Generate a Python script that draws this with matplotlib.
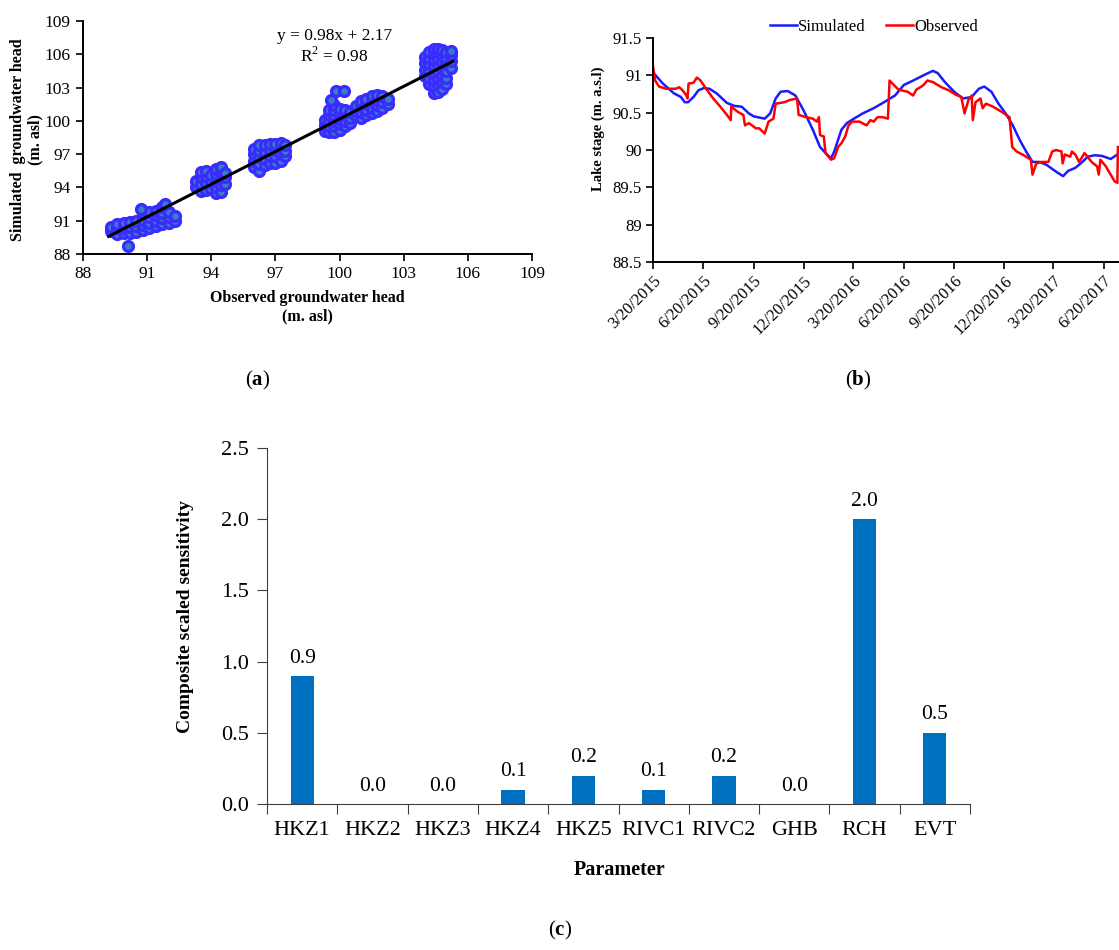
import numpy as np
import pandas as pd
import matplotlib
matplotlib.use("Agg")
import matplotlib.pyplot as plt
import matplotlib.dates as mdates
from matplotlib.ticker import FixedLocator, FuncFormatter, MultipleLocator

plt.rcParams['font.family'] = ['Liberation Serif', 'DejaVu Serif']
plt.rcParams['mathtext.fontset'] = 'custom'
plt.rcParams['mathtext.rm'] = 'Liberation Serif'
plt.rcParams['mathtext.bf'] = 'Liberation Serif:bold'

# ---- (a) observed vs simulated heads, clusters of wells
obs_head = [
    89.3, 89.3, 89.6, 89.6, 89.6, 89.9, 89.9, 89.9, 90.2, 90.2, 90.2, 90.5, 90.5, 90.5,
    90.8, 90.8, 90.8, 90.8, 91.1, 91.1, 91.1, 91.1, 91.4, 91.4, 91.4, 91.4,
    91.7, 91.7, 91.7, 91.7, 92.0, 92.0, 92.0, 92.3, 92.3, 90.1, 91.85, 90.7,
    93.3, 93.3, 93.5, 93.5, 93.5, 93.5, 93.75, 93.75, 93.75, 93.75, 94.0, 94.0, 94.0,
    94.2, 94.2, 94.2, 94.2, 94.2, 94.45, 94.45, 94.45, 94.45, 94.45, 94.65, 94.65, 94.65,
    96.0, 96.0, 96.0, 96.0, 96.25, 96.25, 96.25, 96.25, 96.25, 96.5, 96.5, 96.5, 96.5,
    96.75, 96.75, 96.75, 96.75, 97.0, 97.0, 97.0, 97.0, 97.25, 97.25, 97.25, 97.25,
    97.45, 97.45, 97.45,
    99.3, 99.3, 99.3, 99.5, 99.5, 99.5, 99.5, 99.5, 99.75, 99.75, 99.75, 99.75, 99.75, 99.75,
    100.0, 100.0, 100.0, 100.0, 100.0, 100.25, 100.25, 100.25, 100.25, 100.5, 100.5, 100.5,
    100.75, 100.75, 100.75, 101.0, 101.0, 101.0, 101.0, 101.25, 101.25, 101.25, 101.25,
    101.5, 101.5, 101.5, 101.5, 101.75, 101.75, 101.75, 101.75, 102.0, 102.0, 102.0,
    102.25, 102.25, 99.85, 100.2, 99.6,
    104.0, 104.0, 104.0, 104.0, 104.2, 104.2, 104.2, 104.2, 104.2, 104.2,
    104.4, 104.4, 104.4, 104.4, 104.4, 104.4, 104.4, 104.4,
    104.6, 104.6, 104.6, 104.6, 104.6, 104.6, 104.6, 104.6,
    104.8, 104.8, 104.8, 104.8, 104.8, 104.8, 104.8,
    105.0, 105.0, 105.0, 105.0, 105.0, 105.0, 105.2, 105.2, 105.2, 105.2,
]
sim_head = [
    90.1, 90.45, 89.8, 90.3, 90.7, 89.9, 90.3, 90.8, 89.9, 90.4, 90.9, 90.0, 90.5, 91.0,
    90.2, 90.6, 91.1, 91.7, 90.3, 90.8, 91.3, 91.8, 90.5, 91.0, 91.5, 91.9,
    90.7, 91.2, 91.7, 92.2, 90.8, 91.3, 91.8, 91.0, 91.4, 88.75, 92.5, 92.1,
    94.0, 94.6, 93.7, 94.3, 94.9, 95.4, 93.8, 94.4, 95.0, 95.5, 93.9, 94.5, 95.1,
    93.5, 94.0, 94.6, 95.2, 95.7, 93.6, 94.2, 94.8, 95.4, 95.8, 94.3, 94.9, 95.3,
    95.8, 96.4, 97.0, 97.5, 95.5, 96.1, 96.7, 97.3, 97.8, 96.0, 96.6, 97.2, 97.8,
    96.2, 96.8, 97.4, 97.9, 96.2, 96.8, 97.4, 97.9, 96.4, 97.0, 97.6, 98.0,
    96.8, 97.3, 97.8,
    99.1, 99.6, 100.1, 99.0, 99.5, 100.0, 100.5, 101.0, 99.0, 99.5, 100.0, 100.5, 101.0, 101.4,
    99.2, 99.7, 100.2, 100.7, 101.1, 99.5, 100.0, 100.5, 101.0, 99.8, 100.3, 100.8,
    100.4, 100.9, 101.3, 100.3, 100.8, 101.3, 101.8, 100.5, 101.0, 101.5, 102.0,
    100.7, 101.2, 101.7, 102.2, 100.9, 101.4, 101.9, 102.3, 101.2, 101.7, 102.2,
    101.5, 102.0, 102.65, 102.65, 101.9,
    104.0, 104.6, 105.2, 105.8, 103.3, 103.9, 104.5, 105.1, 105.7, 106.2,
    102.5, 103.1, 103.7, 104.3, 104.9, 105.5, 106.1, 106.5,
    102.6, 103.2, 103.8, 104.4, 105.0, 105.6, 106.2, 106.5,
    102.9, 103.5, 104.1, 104.7, 105.3, 105.9, 106.4,
    103.3, 103.9, 104.5, 105.1, 105.7, 106.2, 104.8, 105.4, 105.9, 106.3,
]
fit_slope, fit_intercept = 0.98, 2.17
fit_range = [89.2, 105.3]
head_ticks = [88, 91, 94, 97, 100, 103, 106, 109]

# ---- (b) lake stage
sim_dates = [
    "2015-03-20", "2015-04-07", "2015-04-27", "2015-05-10", "2015-05-17", "2015-05-23",
    "2015-06-02", "2015-06-11", "2015-06-21", "2015-07-01", "2015-07-14", "2015-08-02",
    "2015-08-16", "2015-08-29", "2015-09-11", "2015-09-20", "2015-10-10", "2015-10-20",
    "2015-10-30", "2015-11-08", "2015-11-21", "2015-12-05", "2015-12-20", "2016-01-06",
    "2016-01-19", "2016-01-29", "2016-02-08", "2016-02-14", "2016-02-27", "2016-03-08",
    "2016-03-21", "2016-04-06", "2016-04-26", "2016-05-15", "2016-06-04", "2016-06-20",
    "2016-07-07", "2016-07-26", "2016-08-12", "2016-08-21", "2016-09-03", "2016-09-20",
    "2016-10-06", "2016-10-22", "2016-11-04", "2016-11-14", "2016-11-27", "2016-12-10",
    "2016-12-23", "2017-01-05", "2017-01-18", "2017-01-31", "2017-02-10", "2017-02-23",
    "2017-03-08", "2017-03-25", "2017-04-07", "2017-04-16", "2017-04-29", "2017-05-09",
    "2017-05-22", "2017-06-04", "2017-06-17", "2017-07-03", "2017-07-13",
]
sim_stage = [
    91.04, 90.89, 90.76, 90.71, 90.64, 90.64, 90.71, 90.80, 90.83, 90.82, 90.76, 90.63,
    90.59, 90.58, 90.49, 90.45, 90.42, 90.49, 90.69, 90.78, 90.79, 90.73, 90.53, 90.27,
    90.04, 89.96, 89.89, 89.98, 90.27, 90.36, 90.42, 90.49, 90.56, 90.64, 90.73, 90.87,
    90.93, 91.00, 91.06, 91.03, 90.91, 90.78, 90.69, 90.71, 90.82, 90.85, 90.78, 90.62,
    90.49, 90.33, 90.13, 89.96, 89.84, 89.84, 89.80, 89.71, 89.65, 89.72, 89.76, 89.82,
    89.91, 89.93, 89.92, 89.88, 89.93,
]
obs_dates = [
    "2015-03-20", "2015-03-24", "2015-03-31", "2015-04-13", "2015-04-30", "2015-05-07",
    "2015-05-13", "2015-05-20", "2015-05-22", "2015-05-24", "2015-06-02", "2015-06-08",
    "2015-06-15", "2015-06-25", "2015-07-08", "2015-07-21", "2015-08-02", "2015-08-09",
    "2015-08-10", "2015-08-22", "2015-09-01", "2015-09-04", "2015-09-11", "2015-09-24",
    "2015-09-30", "2015-10-10", "2015-10-13", "2015-10-17", "2015-10-26", "2015-10-30",
    "2015-11-15", "2015-11-25", "2015-12-08", "2015-12-11", "2015-12-24", "2016-01-06",
    "2016-01-13", "2016-01-17", "2016-01-19", "2016-01-26", "2016-01-29", "2016-02-08",
    "2016-02-14", "2016-02-21", "2016-02-27", "2016-03-05", "2016-03-11", "2016-03-18",
    "2016-03-31", "2016-04-13", "2016-04-20", "2016-04-26", "2016-05-03", "2016-05-12",
    "2016-05-22", "2016-05-25", "2016-06-10", "2016-06-27", "2016-07-07", "2016-07-13",
    "2016-07-20", "2016-07-26", "2016-08-02", "2016-08-12", "2016-08-28", "2016-09-10",
    "2016-09-23", "2016-10-03", "2016-10-09", "2016-10-16", "2016-10-22", "2016-10-24",
    "2016-10-29", "2016-11-07", "2016-11-11", "2016-11-17", "2016-11-30", "2016-12-16",
    "2016-12-30", "2017-01-04", "2017-01-12", "2017-01-25", "2017-02-07", "2017-02-10",
    "2017-02-17", "2017-02-26", "2017-03-11", "2017-03-18", "2017-03-25", "2017-04-04",
    "2017-04-06", "2017-04-10", "2017-04-20", "2017-04-23", "2017-04-30", "2017-05-06",
    "2017-05-12", "2017-05-16", "2017-05-29", "2017-06-08", "2017-06-11", "2017-06-14",
    "2017-06-24", "2017-07-10", "2017-07-15", "2017-07-16",
]
obs_stage = [
    91.12, 90.93, 90.85, 90.82, 90.82, 90.84, 90.80, 90.73, 90.69, 90.89, 90.90, 90.97,
    90.93, 90.82, 90.69, 90.58, 90.47, 90.40, 90.58, 90.51, 90.47, 90.33, 90.36, 90.29,
    90.29, 90.22, 90.29, 90.38, 90.42, 90.62, 90.64, 90.67, 90.69, 90.47, 90.44, 90.42,
    90.38, 90.44, 90.20, 90.18, 89.96, 89.87, 89.89, 90.04, 90.09, 90.18, 90.33, 90.38,
    90.38, 90.33, 90.40, 90.38, 90.44, 90.44, 90.42, 90.93, 90.81, 90.78, 90.73, 90.81,
    90.84, 90.87, 90.93, 90.91, 90.84, 90.80, 90.74, 90.71, 90.49, 90.67, 90.73, 90.40,
    90.64, 90.69, 90.56, 90.62, 90.58, 90.51, 90.44, 90.04, 89.98, 89.93, 89.87, 89.67,
    89.82, 89.84, 89.84, 89.98, 90.00, 89.98, 89.82, 89.94, 89.91, 89.98, 89.93, 89.84,
    89.91, 89.96, 89.84, 89.78, 89.67, 89.87, 89.78, 89.58, 89.56, 90.04,
]
stage_ticks = ["2015-03-20", "2015-06-20", "2015-09-20", "2015-12-20", "2016-03-20",
               "2016-06-20", "2016-09-20", "2016-12-20", "2017-03-20", "2017-06-20"]

# ---- (c) composite scaled sensitivity
params = ["HKZ1", "HKZ2", "HKZ3", "HKZ4", "HKZ5", "RIVC1", "RIVC2", "GHB", "RCH", "EVT"]
css = [0.9, 0.0, 0.0, 0.1, 0.2, 0.1, 0.2, 0.0, 2.0, 0.5]

W, H = 1119, 950
fig = plt.figure(figsize=(W / 100, H / 100), dpi=100)


def rect(l, t, r, b):
    return [l / W, 1 - b / H, (r - l) / W, (b - t) / H]


# (a)
ax1 = fig.add_axes(rect(83, 21, 532, 254))
ax1.scatter(obs_head, sim_head, s=50, facecolor='#3580c0', edgecolor='#3a2cff',
            linewidth=2.4, zorder=2)
fx = np.array(fit_range)
ax1.plot(fx, fit_slope * fx + fit_intercept, color='black', lw=2.2, zorder=3)
ax1.set_xlim(88, 109)
ax1.set_ylim(88, 109)
ax1.xaxis.set_major_locator(FixedLocator(head_ticks))
ax1.yaxis.set_major_locator(FixedLocator(head_ticks))
for s in ['top', 'right']:
    ax1.spines[s].set_visible(False)
for s in ['left', 'bottom']:
    ax1.spines[s].set_linewidth(1.4)
ax1.tick_params(direction='out', length=5, width=1.2, labelsize=12.5, pad=4)
ax1.text(0.56, 0.97, 'y = 0.98x + 2.17\nR$^2$ = 0.98', transform=ax1.transAxes,
         ha='center', va='top', fontsize=12.5, linespacing=1.15)
fig.text(27 / W, 1 - 140 / H, 'Simulated  groundwater head\n(m. asl)', rotation=90,
         ha='center', va='center', fontsize=11.5, fontweight='bold', linespacing=1.1)
fig.text(307 / W, 1 - 307 / H, 'Observed groundwater head\n(m. asl)',
         ha='center', va='center', fontsize=11.5, fontweight='bold', linespacing=1.15)

# (b)
ax2 = fig.add_axes(rect(653, 38, W, 262))
ax2.plot(pd.to_datetime(sim_dates), sim_stage, color='#1a1aff', lw=1.8, label='Simulated')
ax2.plot(pd.to_datetime(obs_dates), obs_stage, color='#ff0000', lw=1.8, label='Observed')
ax2.set_xlim(pd.Timestamp("2015-03-20"), pd.Timestamp("2017-07-18"))
ax2.set_ylim(88.5, 91.5)
ax2.yaxis.set_major_locator(MultipleLocator(0.5))
ax2.yaxis.set_major_formatter(FuncFormatter(lambda v, p: f"{v:g}"))
ax2.xaxis.set_major_locator(FixedLocator(mdates.date2num(pd.to_datetime(stage_ticks))))
ax2.xaxis.set_major_formatter(FuncFormatter(
    lambda v, p: (lambda d: f"{d.month}/{d.day}/{d.year}")(mdates.num2date(v))))
for s in ['top', 'right']:
    ax2.spines[s].set_visible(False)
for s in ['left', 'bottom']:
    ax2.spines[s].set_linewidth(1.4)
ax2.tick_params(direction='out', length=5, width=1.2, labelsize=12, pad=3)
for lab in ax2.get_xticklabels():
    lab.set_rotation(45)
    lab.set_ha('right')
    lab.set_rotation_mode('anchor')
ax2.legend(loc='center', bbox_to_anchor=(874 / W, 1 - 27 / H), bbox_transform=fig.transFigure,
           ncol=2, frameon=False, fontsize=12, handlelength=1.6, handletextpad=0.1,
           columnspacing=1.2, borderpad=0)
fig.text(598 / W, 1 - 129 / H, 'Lake stage (m. a.s.l)', rotation=90, ha='center',
         va='center', fontsize=10.5, fontweight='bold')

# (c)
ax3 = fig.add_axes(rect(267, 448, 970, 804))
xpos = np.arange(len(params))
ax3.bar(xpos, css, width=0.33, color='#0070c0', zorder=2)
for x, v in zip(xpos, css):
    ax3.annotate(f"{v:.1f}", (x, v), xytext=(0, 6), textcoords='offset points',
                 ha='center', va='bottom', fontsize=15.5)
ax3.set_xlim(-0.5, len(params) - 0.5)
ax3.set_ylim(0, 2.5)
ax3.yaxis.set_major_locator(MultipleLocator(0.5))
ax3.yaxis.set_major_formatter(FuncFormatter(lambda v, p: f"{v:.1f}"))
ax3.set_xticks(np.arange(-0.5, len(params), 1.0))
ax3.set_xticklabels([])
ax3.set_xticks(xpos, minor=True)
ax3.set_xticklabels(params, minor=True)
ax3.tick_params(axis='x', which='minor', length=0, labelsize=16, pad=12)
ax3.tick_params(axis='x', which='major', length=7, color='#404040')
ax3.tick_params(axis='y', length=7, color='#404040', labelsize=16, pad=6)
for s in ['top', 'right']:
    ax3.spines[s].set_visible(False)
for s in ['left', 'bottom']:
    ax3.spines[s].set_color('#404040')
fig.text(186 / W, 1 - 617 / H, 'Composite scaled sensitivity', rotation=90, ha='center',
         va='center', fontsize=14, fontweight='bold')
fig.text(620 / W, 1 - 870 / H, 'Parameter', ha='center', va='center', fontsize=14.5,
         fontweight='bold')

# panel letters
for x, y, letter in [(258, 380, 'a'), (858, 380, 'b'), (560, 930, 'c')]:
    fig.text(x / W, 1 - y / H, '($\\mathbf{' + letter + '}$)', ha='center', va='center',
             fontsize=15)

fig.savefig('out.png', dpi=100)
